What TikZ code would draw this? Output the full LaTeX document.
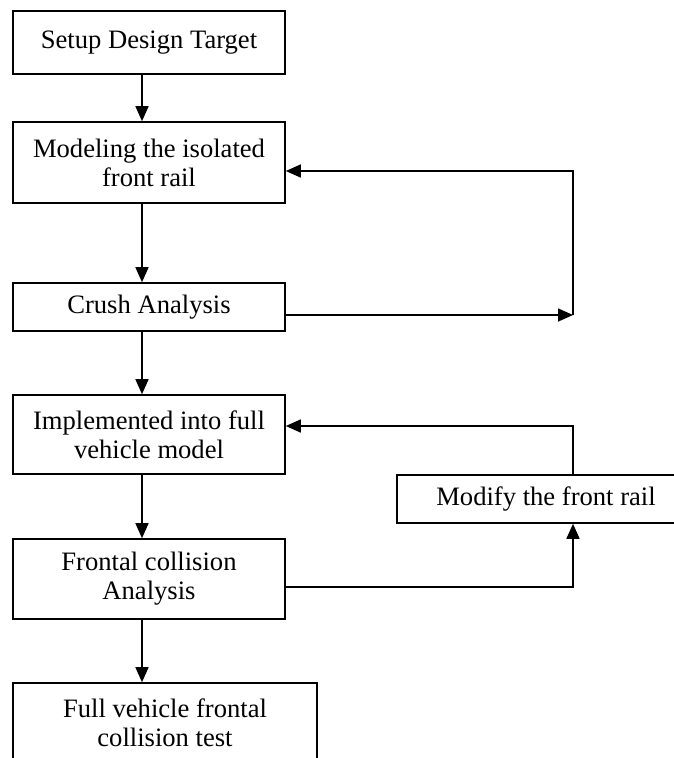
\documentclass[tikz,border=0pt]{standalone}
\usepackage{fontspec}
\setmainfont{Liberation Serif}
\usetikzlibrary{arrows.meta}
\begin{document}
\begin{tikzpicture}[x=1pt,y=-1pt,
  box/.style={draw, line width=1.6pt, inner sep=0pt, align=center,
    font=\fontsize{26.6}{29}\selectfont},
  arr/.style={line width=1.6pt, -{Triangle[length=15pt,width=13pt]}},
  ln/.style={line width=1.6pt}]
\clip (0,0) rectangle (674,758);
\fill[white] (0,0) rectangle (674,758);
\node[box, minimum width=272pt, minimum height=63pt] (b1) at (149,42.5) {Setup Design Target};
\node[box, minimum width=272pt, minimum height=81pt] (b2) at (149,162.5) {Modeling the isolated\\front rail};
\node[box, minimum width=272pt, minimum height=48pt] (crush) at (149,307) {Crush Analysis};
\node[box, minimum width=272pt, minimum height=79pt] (impl) at (149,434.5) {Implemented into full\\vehicle model};
\node[box, minimum width=298pt, minimum height=48pt] (modify) at (546,499) {Modify the front rail};
\node[box, minimum width=272pt, minimum height=80pt] (frontal) at (149,579) {Frontal collision\\Analysis};
\node[box, minimum width=304pt, minimum height=80pt] (full) at (165,723) {Full vehicle frontal\\collision test};
\coordinate (r1) at (573,315);
\coordinate (r2) at (573,171);
\coordinate (r3) at (573,426);
\coordinate (r4) at (573,587);
\draw[arr] ([xshift=-7pt]b1.south) -- ([xshift=-7pt]b2.north);
\draw[arr] ([xshift=-7pt]b2.south) -- ([xshift=-7pt]crush.north);
\draw[arr] ([xshift=-7pt]crush.south) -- ([xshift=-7pt]impl.north);
\draw[arr] ([xshift=-7pt]impl.south) -- ([xshift=-7pt]frontal.north);
\draw[arr] ([xshift=-7pt]frontal.south) -- ([xshift=-7pt]full.north -| frontal.south);
\draw[arr] (crush.east |- r1) -- (r1);
\draw[arr] (r1) -- (r2) -- (r2 -| b2.east);
\draw[arr] (frontal.east |- r4) -- (r4) -- (modify.south -| r4);
\draw[arr] (modify.north -| r3) -- (r3) -- (r3 -| impl.east);
\end{tikzpicture}
\end{document}
